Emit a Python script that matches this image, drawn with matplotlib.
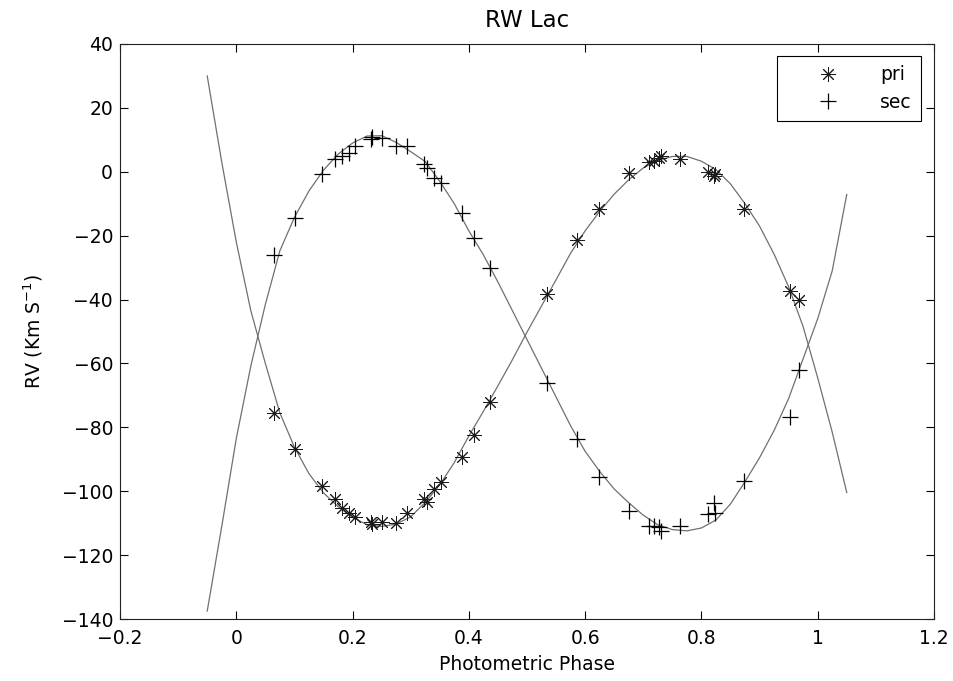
import matplotlib
matplotlib.use('Agg')
import matplotlib.pyplot as plt

# measured radial velocities (phase, primary, secondary)
phase = [0.065, 0.101, 0.148, 0.169, 0.182, 0.193, 0.204, 0.232, 0.234, 0.250,
         0.274, 0.293, 0.322, 0.328, 0.340, 0.352, 0.388, 0.408, 0.437, 0.534,
         0.586, 0.623, 0.676, 0.709, 0.718, 0.727, 0.730, 0.764, 0.812, 0.821,
         0.823, 0.873, 0.953, 0.967]
rv_pri = [-75.4, -86.7, -98.4, -102.3, -105.1, -106.7, -108.0, -109.6, -110.4, -109.6,
          -110.0, -106.9, -102.5, -103.4, -99.4, -97.1, -89.2, -82.4, -72.0, -38.4,
          -21.2, -11.6, -0.3, 3.0, 3.3, 4.2, 4.9, 4.1, -0.1, -1.4,
          -0.6, -11.6, -37.4, -40.0]
rv_sec = [-25.9, -14.4, -0.8, 4.0, 5.0, 5.8, 8.0, 10.3, 11.0, 10.6,
          8.0, 8.2, 2.3, 1.2, -1.9, -3.4, -13.0, -20.7, -30.0, -66.0,
          -83.8, -95.6, -106.2, -110.9, -111.0, -111.3, -112.5, -110.9, -107.2, -103.6,
          -106.7, -96.8, -76.7, -61.9]

# fitted curves
model_phase = [-0.05, -0.025, 0.0, 0.025, 0.05, 0.075, 0.1, 0.125, 0.15, 0.175,
               0.2, 0.225, 0.25, 0.275, 0.3, 0.325, 0.35, 0.375, 0.4, 0.425,
               0.45, 0.475, 0.5, 0.525, 0.55, 0.575, 0.6, 0.625, 0.65, 0.675,
               0.7, 0.725, 0.75, 0.775, 0.8, 0.825, 0.85, 0.875, 0.9, 0.925,
               0.95, 0.975, 1.0, 1.025, 1.05]
model_pri = [30.0, 3.0, -22.0, -43.5, -60.0, -75.5, -86.2, -94.5, -100.5, -104.8,
             -108.2, -110.5, -111.0, -110.3, -108.0, -103.5, -98.0, -91.0, -82.7, -75.0,
             -67.0, -58.8, -50.2, -42.0, -33.8, -25.5, -18.5, -12.4, -7.0, -2.5,
             1.2, 3.6, 4.8, 4.8, 3.3, 0.7, -3.8, -10.0, -17.0, -25.8,
             -36.0, -48.5, -64.5, -81.5, -100.4]
model_sec = [-137.5, -111.0, -83.5, -60.8, -41.5, -24.7, -14.3, -6.0, 0.5, 5.5,
             9.0, 11.2, 11.3, 9.2, 6.3, 3.2, -3.0, -10.0, -18.5, -26.0,
             -34.5, -43.5, -52.5, -61.5, -70.5, -79.5, -87.5, -93.8, -99.3, -103.6,
             -107.5, -110.5, -112.0, -112.4, -111.5, -109.0, -104.0, -97.0, -89.5, -81.0,
             -71.0, -58.5, -46.0, -31.0, -7.1]

xticks = [-0.2, 0, 0.2, 0.4, 0.6, 0.8, 1.0, 1.2]
xticklabels = ['\u22120.2', '0', '0.2', '0.4', '0.6', '0.8', '1', '1.2']
yticks = [-140, -120, -100, -80, -60, -40, -20, 0, 20, 40]


def main():
    plt.rcParams['font.family'] = 'DejaVu Sans'
    fig = plt.figure(figsize=(9.54, 6.81), dpi=100)
    ax = fig.add_axes([0.1258, 0.091, 0.8532, 0.8444])

    ax.plot(model_phase, model_pri, color='#707070', lw=0.9)
    ax.plot(model_phase, model_sec, color='#707070', lw=0.9)
    ax.plot(phase, rv_pri, linestyle='none', marker=(8, 2, 0), markersize=10.5,
            markeredgewidth=0.7, color='#1a1a1a', label='pri')
    ax.plot(phase, rv_sec, linestyle='none', marker='+', markersize=11,
            markeredgewidth=0.9, color='black', label='sec')

    ax.set_xlim(-0.2, 1.2)
    ax.set_ylim(-140, 40)
    ax.set_xticks(xticks)
    ax.set_xticklabels(xticklabels)
    ax.set_yticks(yticks)
    ax.tick_params(direction='in', length=5.5, width=0.8, top=True, right=True,
                   labelsize=13.5)
    ax.tick_params(axis='x', pad=7)
    ax.tick_params(axis='y', pad=5)
    for s in ax.spines.values():
        s.set_linewidth(0.8)
        s.set_color('#222222')

    ax.set_title('RW Lac', fontsize=16.5, pad=12)
    ax.set_xlabel('Photometric Phase', fontsize=13.5, labelpad=5)
    ax.set_ylabel('RV (Km S$^{-1}$)', fontsize=13.5, labelpad=12)

    leg = ax.legend(loc='upper right', bbox_to_anchor=(0.984, 0.979), borderaxespad=0,
                    fontsize=13.5, fancybox=False, edgecolor='black', framealpha=1,
                    handlelength=4.44, handletextpad=0.55, borderpad=0.5,
                    labelspacing=0.45)
    leg.get_frame().set_linewidth(0.8)

    fig.savefig('out.png', dpi=100)


if __name__ == '__main__':
    main()
